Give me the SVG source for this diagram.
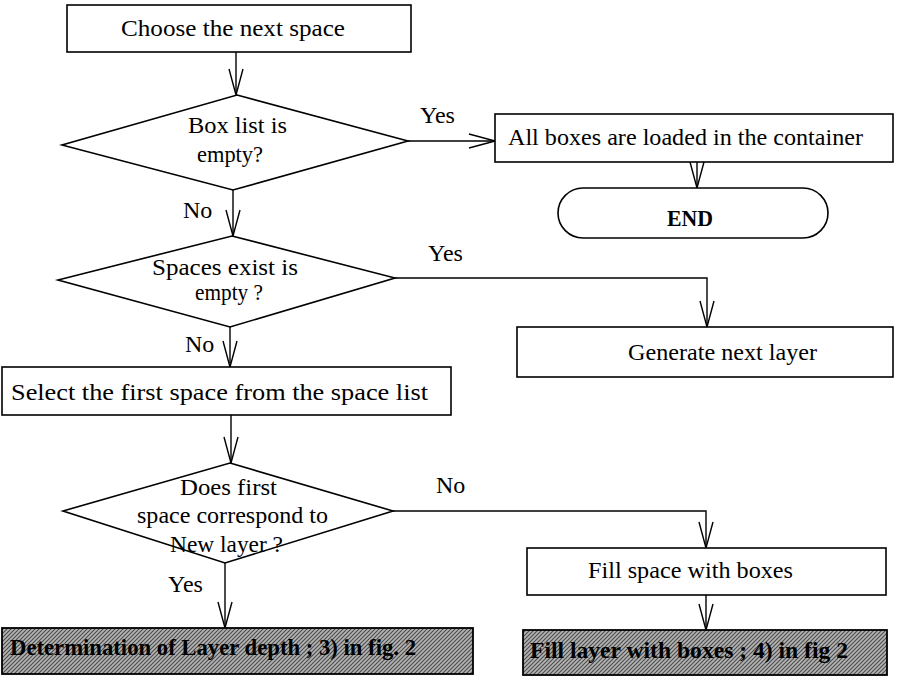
<svg xmlns="http://www.w3.org/2000/svg" width="897" height="682" viewBox="0 0 897 682">
  <style>
    .shape { fill: #ffffff; stroke: #000000; stroke-width: 1.6; }
    .shaded { fill: url(#hatch); stroke: #000000; stroke-width: 1.8; }
    .label { font-family: "Liberation Serif", "Times New Roman", serif; font-size: 24px; fill: #000000; }
    .bold { font-weight: bold; }
    .conn { fill: none; stroke: #000000; stroke-width: 1.4; marker-end: url(#vee); }
  </style>
  <defs>
    <marker id="vee" markerUnits="userSpaceOnUse" markerWidth="30" markerHeight="20" viewBox="-28 -10 30 20" refX="0" refY="0" orient="auto">
      <path d="M-26,-7 L0,0 L-26,7" fill="none" stroke="#000000" stroke-width="1.4"/>
    </marker>
    <pattern id="hatch" patternUnits="userSpaceOnUse" width="4" height="4">
      <rect width="4" height="4" fill="#b4b4b4"/>
      <path d="M-1,1 L1,-1 M0,4 L4,0 M3,5 L5,3" stroke="#4a4a4a" stroke-width="1.1"/>
    </pattern>
  </defs>

  <!-- connectors -->
  <g id="connectors">
    <path class="conn" d="M236,52 L236,95"/>
    <path class="conn" d="M233,190 L233,236"/>
    <path class="conn" d="M408,141 L495,141"/>
    <path class="conn" d="M697,162 L697,188"/>
    <path class="conn" d="M395,278 L707,278 L707,327"/>
    <path class="conn" d="M230,327 L230,367"/>
    <path class="conn" d="M231,415 L231,463"/>
    <path class="conn" d="M393,511 L706,511 L706,548"/>
    <path class="conn" d="M225,563 L225,628"/>
    <path class="conn" d="M706,595 L706,630"/>
  </g>

  <!-- branch labels -->
  <g id="edge-labels">
    <text class="label" x="420" y="123">Yes</text>
    <text class="label" x="183" y="218">No</text>
    <text class="label" x="428" y="261">Yes</text>
    <text class="label" x="185" y="352">No</text>
    <text class="label" x="436" y="493">No</text>
    <text class="label" x="168" y="592">Yes</text>
  </g>

  <g id="choose-next-space">
    <rect class="shape" x="67" y="5" width="344" height="47"/>
    <text class="label" x="121" y="36" textLength="224" lengthAdjust="spacingAndGlyphs">Choose the next space</text>
  </g>

  <g id="box-list-empty">
    <polygon class="shape" points="237,95 408,141 233,190 62,145"/>
    <text class="label" x="188" y="133" textLength="99" lengthAdjust="spacingAndGlyphs">Box list is</text>
    <text class="label" x="197" y="162" textLength="66" lengthAdjust="spacingAndGlyphs">empty?</text>
  </g>

  <g id="all-loaded">
    <rect class="shape" x="495" y="114" width="398" height="48"/>
    <text class="label" x="508" y="145" textLength="355" lengthAdjust="spacingAndGlyphs">All boxes are loaded in the container</text>
  </g>

  <g id="end">
    <rect class="shape" x="558" y="188" width="270" height="50" rx="25" ry="25"/>
    <text class="label bold" x="667" y="226" textLength="46" lengthAdjust="spacingAndGlyphs">END</text>
  </g>

  <g id="spaces-empty">
    <polygon class="shape" points="232,236 395,278 230,327 58,280"/>
    <text class="label" x="152" y="275" textLength="146" lengthAdjust="spacingAndGlyphs">Spaces exist is</text>
    <text class="label" x="195" y="300" textLength="68" lengthAdjust="spacingAndGlyphs">empty ?</text>
  </g>

  <g id="generate-next-layer">
    <rect class="shape" x="517" y="327" width="376" height="50"/>
    <text class="label" x="628" y="360" textLength="189" lengthAdjust="spacingAndGlyphs">Generate next layer</text>
  </g>

  <g id="select-first-space">
    <rect class="shape" x="2" y="367" width="449" height="48"/>
    <text class="label" x="11" y="400" textLength="417" lengthAdjust="spacingAndGlyphs">Select the first space from the space list</text>
  </g>

  <g id="new-layer-check">
    <polygon class="shape" points="230,463 393,511 225,563 63,511"/>
    <text class="label" x="180" y="495" textLength="97" lengthAdjust="spacingAndGlyphs">Does first</text>
    <text class="label" x="137" y="523" textLength="191" lengthAdjust="spacingAndGlyphs">space correspond to</text>
    <text class="label" x="170" y="552" textLength="113" lengthAdjust="spacingAndGlyphs">New layer ?</text>
  </g>

  <g id="fill-space">
    <rect class="shape" x="527" y="548" width="359" height="47"/>
    <text class="label" x="588" y="578" textLength="205" lengthAdjust="spacingAndGlyphs">Fill space with boxes</text>
  </g>

  <g id="layer-depth">
    <rect class="shaded" x="2" y="628" width="471" height="46"/>
    <text class="label bold" x="10" y="655" textLength="406" lengthAdjust="spacingAndGlyphs">Determination of Layer depth ; 3) in fig. 2</text>
  </g>

  <g id="fill-layer">
    <rect class="shaded" x="523" y="630" width="364" height="45"/>
    <text class="label bold" x="530" y="658" textLength="318" lengthAdjust="spacingAndGlyphs">Fill layer with boxes ; 4) in fig 2</text>
  </g>
</svg>
